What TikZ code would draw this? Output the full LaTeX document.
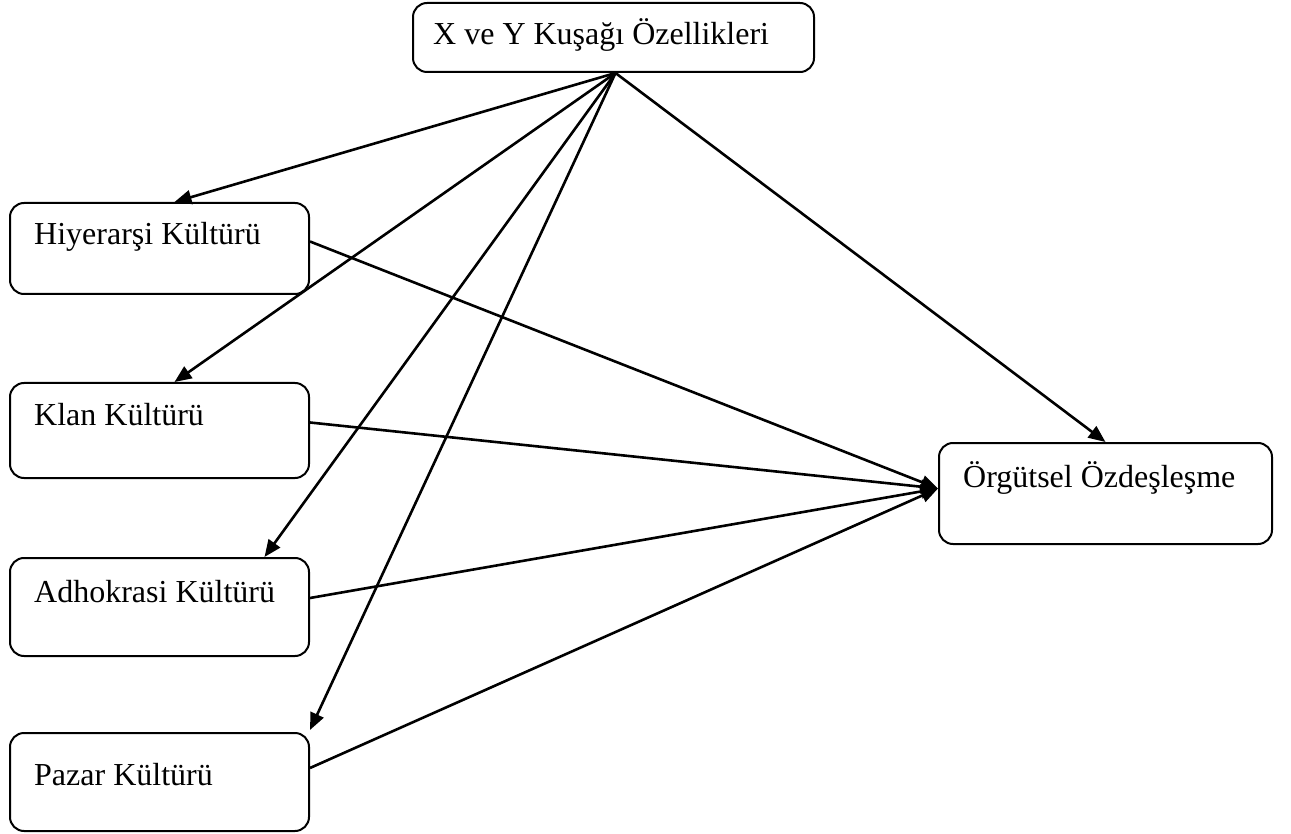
\documentclass[tikz,border=0pt]{standalone}
\usepackage{fontspec}
\setmainfont{Liberation Serif}
\usetikzlibrary{arrows.meta,calc}
\begin{document}
\begin{tikzpicture}[x=1pt,y=-1pt,
  box/.style={draw,line width=2pt,rounded corners=14pt,anchor=north west,inner sep=0pt},
  lbl/.style={anchor=base west,inner sep=0pt,font=\fontsize{32}{38}\selectfont},
  link/.style={line width=2.6pt,-{Triangle[length=17pt,width=14pt]}}]
\useasboundingbox (0,0) rectangle (1291,834);

% boxes
\node[box,minimum width=401pt,minimum height=69pt] (gen) at (412,2) {};
\node[box,minimum width=299pt,minimum height=91pt] (hier) at (9,202) {};
\node[box,minimum width=299pt,minimum height=95pt] (klan) at (9,382) {};
\node[box,minimum width=299pt,minimum height=98pt] (adho) at (9,557) {};
\node[box,minimum width=299pt,minimum height=98pt] (pazar) at (9,732) {};
\node[box,minimum width=333pt,minimum height=101pt] (org) at (938,442) {};

% labels
\node[lbl] (gentxt) at (433,45) {X ve Y Kuşağı Özellikleri};
\node[lbl] (hiertxt) at (34,245) {Hiyerarşi Kültürü};
\node[lbl] (klantxt) at (34,425) {Klan Kültürü};
\node[lbl] (adhotxt) at (34,602) {Adhokrasi Kültürü};
\node[lbl] (pazartxt) at (34,785) {Pazar Kültürü};
\node[lbl] (orgtxt) at (963,487) {Örgütsel Özdeşleşme};

% connector end points
\coordinate (src) at ($(gen.south)+(2,0)$);
\coordinate (orgin) at ($(org.west)+(0,-5)$);
\coordinate (hierout) at ($(hier.east)+(0,-7)$);
\coordinate (klanout) at ($(klan.east)+(0,-8)$);
\coordinate (adhoout) at ($(adho.east)+(0,-9)$);
\coordinate (pazarout) at ($(pazar.east)+(0,-14)$);

% connectors
\draw[link] (src) -- ($(hier.north)+(15,0)$);
\draw[link] (src) -- ($(klan.north)+(15,0)$);
\draw[link] (src) -- ($(adho.north)+(105,0)$);
\draw[link] (src) -- ($(pazar.north east)+(0,-2)$);
\draw[link] (src) -- (org.north);
\draw[link] (hierout) -- (orgin);
\draw[link] (klanout) -- (orgin);
\draw[link] (adhoout) -- (orgin);
\draw[link] (pazarout) -- (orgin);
\end{tikzpicture}
\end{document}
